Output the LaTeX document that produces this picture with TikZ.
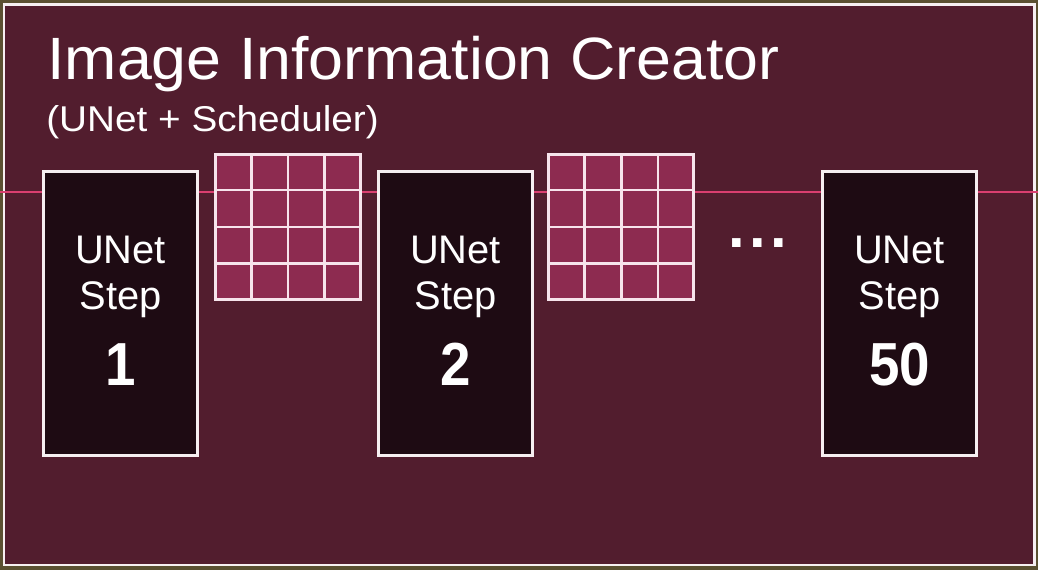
\documentclass[tikz,border=0pt]{standalone}
\usepackage{fontspec}
\setmainfont{Liberation Sans}
\newfontfamily\titlefont[FakeStretch=1.05]{Liberation Sans}
\newfontfamily\subfont[FakeStretch=1.08]{Liberation Sans}
\newfontfamily\numfont[FakeStretch=0.9]{Liberation Sans}
\usetikzlibrary{calc}

\definecolor{outerbg}{HTML}{5A5031}
\definecolor{panel}{HTML}{521D2E}
\definecolor{framewhite}{HTML}{F6EFF1}
\definecolor{boxfill}{HTML}{1E0B13}
\definecolor{cellfill}{HTML}{8D2B50}
\definecolor{wirepink}{HTML}{DA3F70}
\definecolor{gridwhite}{HTML}{F7E4EC}

\pgfdeclarelayer{back}
\pgfsetlayers{back,main}

\tikzset{
  stepbox/.style={draw=framewhite, line width=1.7pt, fill=boxfill,
    minimum width=3.08cm, minimum height=5.68cm, inner sep=0pt},
  gridbox/.style={draw=gridwhite, line width=1.7pt, fill=cellfill,
    minimum width=2.9cm, minimum height=2.9cm, inner sep=0pt},
  gridline/.style={draw=gridwhite, line width=1.7pt},
  wire/.style={draw=wirepink, line width=1.2pt},
  steplabel/.style={text=white, inner sep=0pt, anchor=base,
    font=\fontsize{22.7}{27}\selectfont},
  stepnum/.style={text=white, inner sep=0pt, anchor=base,
    font=\numfont\bfseries\fontsize{34.6}{40}\selectfont},
  titletext/.style={text=white, inner sep=0pt, anchor=base west,
    font=\titlefont\fontsize{34}{40}\selectfont},
  subtext/.style={text=white, inner sep=0pt, anchor=base west,
    font=\subfont\fontsize{20.4}{24}\selectfont},
  dotstext/.style={text=white, inner sep=0pt,
    font=\bfseries\fontsize{34}{40}\selectfont},
}

\begin{document}
\begin{tikzpicture}[x=0.02cm, y=-0.02cm]
\useasboundingbox (0,0) rectangle (1038,570);

% UNet step boxes
\node[stepbox] (s1) at (120.5,313.5) {};
\node[stepbox] (s2) at (455.5,313.5) {};
\node[stepbox] (s3) at (899.5,313.5) {};

% latent grids between the steps
\node[gridbox] (g1) at (288,227) {};
\node[gridbox] (g2) at (621,227) {};
\foreach \g in {g1,g2} {
  \foreach \k in {1,2,3} {
    \draw[gridline] ($(\g.north west)!\k/4!(\g.north east)$) -- ($(\g.south west)!\k/4!(\g.south east)$);
    \draw[gridline] ($(\g.north west)!\k/4!(\g.south west)$) -- ($(\g.north east)!\k/4!(\g.south east)$);
  }
}

% panel, frame and the pink flow line behind everything
\coordinate (lin) at (0,192);
\coordinate (lout) at (1038,192);
\begin{pgfonlayer}{back}
  \fill[outerbg] (0,0) rectangle (1038,570);
  \fill[panel] (4,5) rectangle (1034,565);
  \draw[framewhite, line width=1.7pt] (4,5) rectangle (1034,565);
  \draw[wire] (lin) -- (lin -| s1.west);
  \draw[wire] (lin -| s1.east) -- (lin -| g1.west);
  \draw[wire] (lin -| g1.east) -- (lin -| s2.west);
  \draw[wire] (lin -| s2.east) -- (lin -| g2.west);
  \draw[wire] (lin -| g2.east) -- (lin -| s3.west);
  \draw[wire] (lin -| s3.east) -- (lout);
\end{pgfonlayer}

% titles
\node[titletext] (title) at (47,80) {Image Information Creator};
\node[subtext] (subtitle) at (46,132) {(UNet + Scheduler)};

% box labels
\node[steplabel] (s1a) at (120.5,264) {UNet};
\node[steplabel] (s1b) at (120.5,310) {Step};
\node[stepnum]   (s1c) at (120.5,386) {1};
\node[steplabel] (s2a) at (455.5,264) {UNet};
\node[steplabel] (s2b) at (455.5,310) {Step};
\node[stepnum]   (s2c) at (455.5,386) {2};
\node[steplabel] (s3a) at (899.5,264) {UNet};
\node[steplabel] (s3b) at (899.5,310) {Step};
\node[stepnum]   (s3c) at (899.5,386) {50};

% ellipsis before the last step
\node[dotstext] (more) at (758,243) {.\hspace{2.4pt}.\hspace{2.4pt}.};
\end{tikzpicture}
\end{document}
